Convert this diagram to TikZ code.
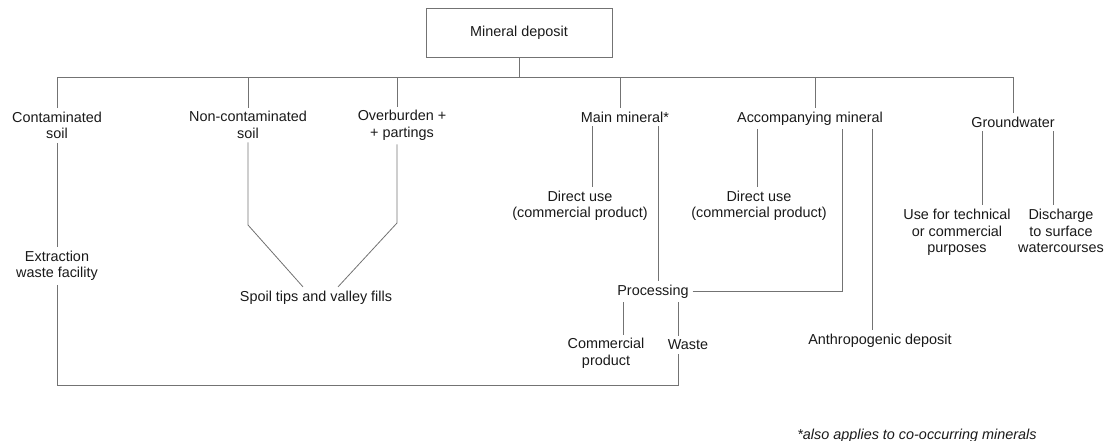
\documentclass[tikz,border=0pt]{standalone}
\usepackage{fontspec}
\setmainfont{Liberation Sans}

\begin{document}
\begin{tikzpicture}[x=1pt, y=-1pt, black!55, line width=0.8pt,
  every node/.style={text=black!90, align=center, inner sep=3.5pt, font=\fontsize{14.4}{16.5}\selectfont}]
  \useasboundingbox (0, 0) rectangle (1110, 441);

  \node[draw, minimum width=186pt, minimum height=49pt] at (519, 33) (deposit) {Mineral deposit};

  \node at (57, 125.5) (contam) {Contaminated\\soil};
  \node at (248, 125) (noncontam) {Non-contaminated\\soil};
  \node at (402, 125.5) (overburden) {Overburden +\\+ partings};
  \node at (625, 117) (mainmin) {Main mineral*};
  \node at (810, 118.5) (accmin) {Accompanying mineral};
  \node at (1013, 122) (groundw) {Groundwater};

  \node at (580, 206) (direct1) {Direct use\\(commercial product)};
  \node at (759, 206) (direct2) {Direct use\\(commercial product)};
  \node at (957, 232.5) (usetech) {Use for technical\\or commercial\\purposes};
  \node at (1061, 231) (discharge) {Discharge\\to surface\\watercourses};

  \node at (57, 266) (extraction) {Extraction\\waste facility};
  \node at (316, 297.5) (spoil) {Spoil tips and valley fills};
  \node at (653, 291.5) (processing) {Processing};
  \node at (606, 353.5) (commercial) {Commercial\\product};
  \node at (688, 345) (waste) {Waste};
  \node at (880, 340.5) (anthro) {Anthropogenic deposit};

  \node[font=\fontsize{14.4}{16.5}\selectfont\itshape] at (917, 436) (note) {*also applies to co-occurring minerals};

  \coordinate (busL) at (57, 77);
  \coordinate (busR) at (1013, 77);
  \coordinate (obB) at (397, 0);
  \coordinate (mmB) at (620, 0);
  \coordinate (amB) at (815, 0);
  \coordinate (mmL) at (592, 0);
  \coordinate (mmR) at (658, 0);
  \coordinate (amL) at (757, 0);
  \coordinate (amR1) at (842, 0);
  \coordinate (amR2) at (872, 0);
  \coordinate (prL) at (623, 0);
  \coordinate (prR) at (678, 0);
  \coordinate (gwL) at (982, 0);
  \coordinate (gwR) at (1053, 0);
  \coordinate (bendL) at (248, 225);
  \coordinate (bendR) at (397, 223);
  \coordinate (bot) at (678, 385);

  \draw (deposit) -- (deposit |- busL);
  \draw (busL) -- (busR);
  \draw (contam) -- (busL);
  \draw (noncontam) -- (noncontam |- busL);
  \draw (obB |- overburden.north) -- (obB |- busL);
  \draw (mmB |- mainmin.north) -- (mmB |- busL);
  \draw (amB |- accmin.north) -- (amB |- busL);
  \draw (groundw) -- (busR);

  \draw (contam) -- (extraction);
  \draw (extraction) |- (bot) -- (bot |- waste.south);
  \draw (noncontam) -- (bendL) -- ([xshift=-13pt]spoil.north);
  \draw (obB |- overburden.south) -- (bendR) -- ([xshift=22pt]spoil.north);

  \draw (mmL |- mainmin.south) -- (mmL |- direct1.north);
  \draw (mmR |- mainmin.south) -- (mmR |- processing.north);
  \draw (processing) -- (amR1 |- processing) -- (amR1 |- accmin.south);
  \draw (amL |- accmin.south) -- (amL |- direct2.north);
  \draw (amR2 |- accmin.south) -- (amR2 |- anthro.north);
  \draw (prL |- processing.south) -- (prL |- commercial.north);
  \draw (prR |- processing.south) -- (prR |- waste.north);
  \draw (gwL |- groundw.south) -- (gwL |- usetech.north);
  \draw (gwR |- groundw.south) -- (gwR |- discharge.north);
\end{tikzpicture}
\end{document}
